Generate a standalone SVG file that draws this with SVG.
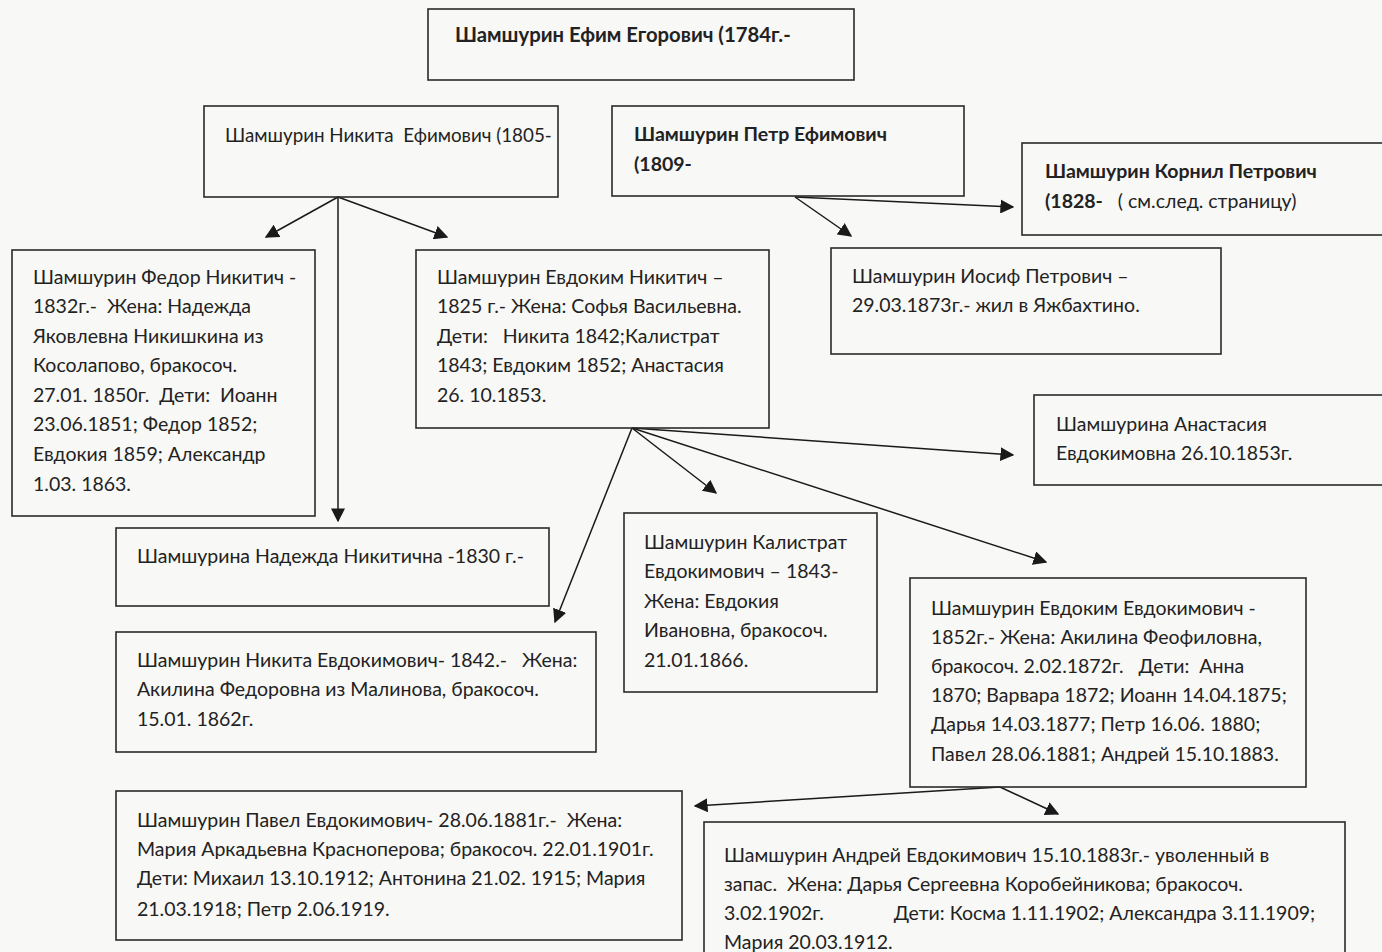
<svg xmlns="http://www.w3.org/2000/svg" width="1382" height="952" viewBox="0 0 1382 952">
<defs>
<marker id="ah" viewBox="0 0 10 10" refX="9" refY="5" markerWidth="14" markerHeight="14" markerUnits="userSpaceOnUse" orient="auto">
<path d="M0,0 L10,5 L0,10 z" fill="#1a1a1a"/>
</marker>
<style>
.box{fill:none;stroke:#2a2a2a;stroke-width:1.6}
.t{font-family:Lato,"Open Sans","Liberation Sans",sans-serif;font-size:19.5px;fill:#222;white-space:pre}
.b{font-weight:bold}
.c{fill:none;stroke:#1a1a1a;stroke-width:1.5;marker-end:url(#ah)}
</style>
</defs>
<rect width="1382" height="952" fill="#f8f8f6"/>
<g id="connectors">
<path class="c" d="M338,197 L266,237"/>
<path class="c" d="M338,197 L447,237"/>
<path class="c" d="M338,197 L338,521"/>
<path class="c" d="M795,197 L1013,207"/>
<path class="c" d="M795,197 L851,236"/>
<path class="c" d="M632,428 L555,622"/>
<path class="c" d="M632,428 L716,493"/>
<path class="c" d="M632,428 L1013,455"/>
<path class="c" d="M632,428 L1046,562"/>
<path class="c" d="M1000,787 L695,806"/>
<path class="c" d="M1000,787 L1058,814"/>
</g>
<g id="efim">
<rect class="box" x="428" y="9" width="426" height="71"/>
<text class="t b" x="455" y="42" style="font-size:20.3px">Шамшурин Ефим Егорович (1784г.-</text>
</g>
<g id="nikita">
<rect class="box" x="204" y="106" width="354" height="91"/>
<text class="t" x="225" y="142" style="font-size:18.8px">Шамшурин Никита  Ефимович (1805-</text>
</g>
<g id="petr">
<rect class="box" x="612" y="106" width="352" height="90"/>
<text class="t b" x="634" y="141">Шамшурин Петр Ефимович</text>
<text class="t b" x="634" y="171">(1809-</text>
</g>
<g id="kornil">
<rect class="box" x="1022" y="143" width="370" height="92"/>
<text class="t b" x="1045" y="178">Шамшурин Корнил Петрович</text>
<text class="t" x="1045" y="208"><tspan class="b">(1828-</tspan>   ( см.след. страницу)</text>
</g>
<g id="fedor">
<rect class="box" x="12" y="250" width="303" height="266"/>
<text class="t" x="33" y="284">Шамшурин Федор Никитич -</text>
<text class="t" x="33" y="313">1832г.-  Жена: Надежда</text>
<text class="t" x="33" y="343">Яковлевна Никишкина из</text>
<text class="t" x="33" y="372">Косолапово, бракосоч.</text>
<text class="t" x="33" y="402">27.01. 1850г.  Дети:  Иоанн</text>
<text class="t" x="33" y="431">23.06.1851; Федор 1852;</text>
<text class="t" x="33" y="461">Евдокия 1859; Александр</text>
<text class="t" x="33" y="491">1.03. 1863.</text>
</g>
<g id="evdokim">
<rect class="box" x="416" y="250" width="353" height="178"/>
<text class="t" x="437" y="284">Шамшурин Евдоким Никитич –</text>
<text class="t" x="437" y="313">1825 г.- Жена: Софья Васильевна.</text>
<text class="t" x="437" y="343">Дети:   Никита 1842;Калистрат</text>
<text class="t" x="437" y="372">1843; Евдоким 1852; Анастасия</text>
<text class="t" x="437" y="402">26. 10.1853.</text>
</g>
<g id="iosif">
<rect class="box" x="831" y="248" width="390" height="106"/>
<text class="t" x="852" y="283">Шамшурин Иосиф Петрович –</text>
<text class="t" x="852" y="312">29.03.1873г.- жил в Яжбахтино.</text>
</g>
<g id="anastasia">
<rect class="box" x="1034" y="395" width="360" height="90"/>
<text class="t" x="1056" y="431">Шамшурина Анастасия</text>
<text class="t" x="1056" y="460">Евдокимовна 26.10.1853г.</text>
</g>
<g id="nadezhda">
<rect class="box" x="116" y="528" width="433" height="78"/>
<text class="t" x="137" y="563">Шамшурина Надежда Никитична -1830 г.-</text>
</g>
<g id="kalistrat">
<rect class="box" x="624" y="513" width="253" height="179"/>
<text class="t" x="644" y="549">Шамшурин Калистрат</text>
<text class="t" x="644" y="578">Евдокимович – 1843-</text>
<text class="t" x="644" y="608">Жена: Евдокия</text>
<text class="t" x="644" y="637">Ивановна, бракосоч.</text>
<text class="t" x="644" y="667">21.01.1866.</text>
</g>
<g id="nikita_e">
<rect class="box" x="116" y="632" width="480" height="120"/>
<text class="t" x="137" y="667">Шамшурин Никита Евдокимович- 1842.-   Жена:</text>
<text class="t" x="137" y="696">Акилина Федоровна из Малинова, бракосоч.</text>
<text class="t" x="137" y="726">15.01. 1862г.</text>
</g>
<g id="evdokim_e">
<rect class="box" x="910" y="578" width="396" height="209"/>
<text class="t" x="931" y="615">Шамшурин Евдоким Евдокимович -</text>
<text class="t" x="931" y="644">1852г.- Жена: Акилина Феофиловна,</text>
<text class="t" x="931" y="673">бракосоч. 2.02.1872г.   Дети:  Анна</text>
<text class="t" x="931" y="702">1870; Варвара 1872; Иоанн 14.04.1875;</text>
<text class="t" x="931" y="731">Дарья 14.03.1877; Петр 16.06. 1880;</text>
<text class="t" x="931" y="761">Павел 28.06.1881; Андрей 15.10.1883.</text>
</g>
<g id="pavel">
<rect class="box" x="116" y="791" width="566" height="149"/>
<text class="t" x="137" y="827">Шамшурин Павел Евдокимович- 28.06.1881г.-  Жена:</text>
<text class="t" x="137" y="856">Мария Аркадьевна Красноперова; бракосоч. 22.01.1901г.</text>
<text class="t" x="137" y="885">Дети: Михаил 13.10.1912; Антонина 21.02. 1915; Мария</text>
<text class="t" x="137" y="916">21.03.1918; Петр 2.06.1919.</text>
</g>
<g id="andrey">
<rect class="box" x="704" y="822" width="641" height="140"/>
<text class="t" x="724" y="862">Шамшурин Андрей Евдокимович 15.10.1883г.- уволенный в</text>
<text class="t" x="724" y="891">запас.  Жена: Дарья Сергеевна Коробейникова; бракосоч.</text>
<text class="t" x="724" y="920">3.02.1902г.              Дети: Косма 1.11.1902; Александра 3.11.1909;</text>
<text class="t" x="724" y="949">Мария 20.03.1912.</text>
</g>
</svg>
